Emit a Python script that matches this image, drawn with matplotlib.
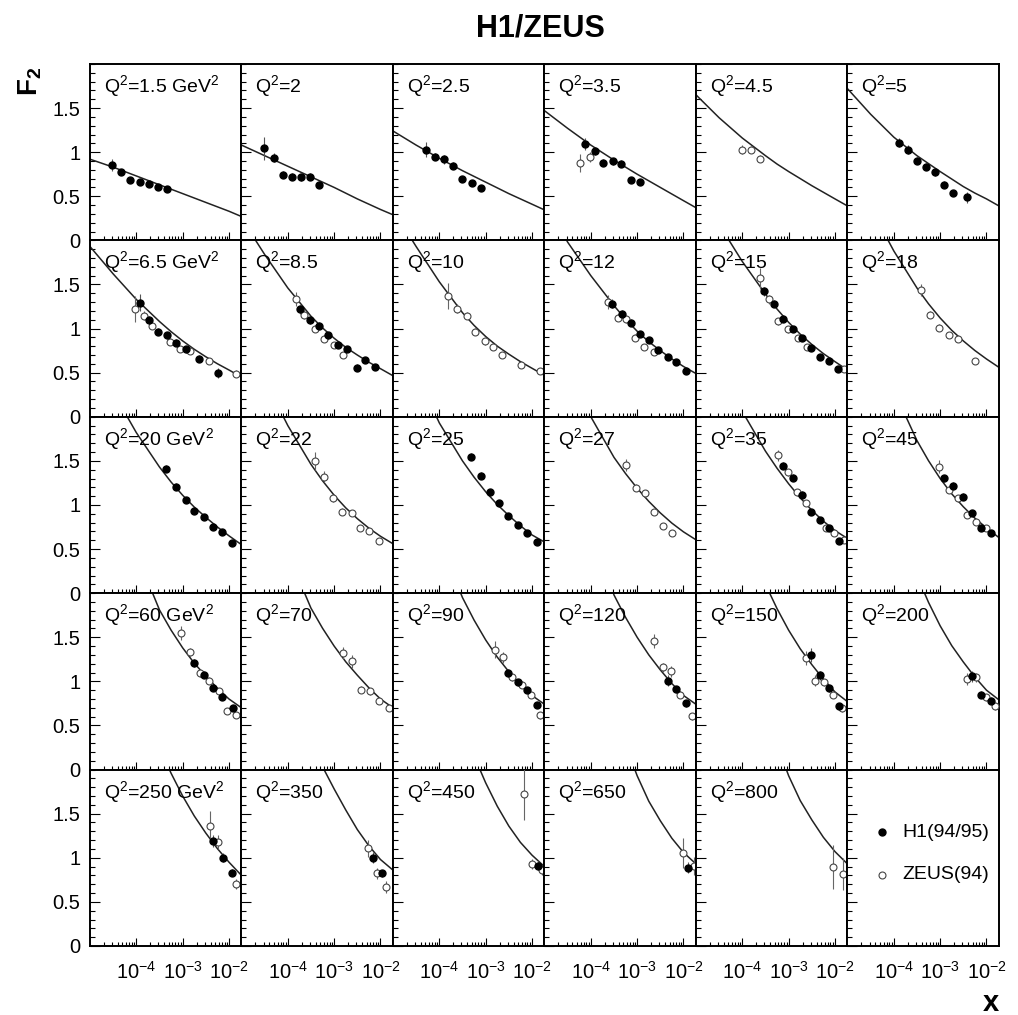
import matplotlib.pyplot as plt
import numpy as np
from matplotlib.ticker import LogLocator, MultipleLocator, FuncFormatter, NullFormatter

plt.rcParams['font.family'] = ['Liberation Sans', 'DejaVu Sans']
plt.rcParams['mathtext.fontset'] = 'custom'
plt.rcParams['mathtext.rm'] = 'Liberation Sans'
plt.rcParams['mathtext.it'] = 'Liberation Sans:italic'
plt.rcParams['mathtext.bf'] = 'Liberation Sans:bold'

# --- Q2 bins (GeV^2), one per panel ---
Q2 = ['1.5', '2', '2.5', '3.5', '4.5', '5',
      '6.5', '8.5', '10', '12', '15', '18',
      '20', '22', '25', '27', '35', '45',
      '60', '70', '90', '120', '150', '200',
      '250', '350', '450', '650', '800']

# --- H1 (94/95) points, per panel ---
H1_X = [
    [2.99e-5, 4.74e-5, 7.41e-5, 1.22e-4, 1.87e-4, 2.99e-4, 4.59e-4],
    [3.03e-5, 4.91e-5, 7.94e-5, 1.24e-4, 1.94e-4, 3.03e-4, 4.74e-4],
    [5.07e-5, 8.05e-5, 1.28e-4, 2.0e-4, 3.13e-4, 4.99e-4, 7.94e-4],
    [7.41e-5, 1.22e-4, 1.87e-4, 2.99e-4, 4.59e-4, 7.29e-4, 1.16e-3],
    [],
    [1.28e-4, 2.0e-4, 3.13e-4, 4.99e-4, 7.94e-4, 1.24e-3, 1.94e-3, 3.77e-3],
    [1.22e-4, 1.87e-4, 2.99e-4, 4.59e-4, 7.29e-4, 1.16e-3, 2.29e-3, 5.79e-3],
    [1.85e-4, 3.08e-4, 4.74e-4, 7.29e-4, 1.24e-3, 1.91e-3, 3.13e-3, 4.74e-3, 7.43e-3],
    [],
    [2.88e-4, 4.74e-4, 7.29e-4, 1.16e-3, 1.79e-3, 2.84e-3, 4.52e-3, 7.06e-3, 1.16e-2],
    [2.94e-4, 4.82e-4, 7.55e-4, 1.24e-3, 1.91e-3, 2.99e-3, 4.74e-3, 7.43e-3, 1.16e-2],
    [],
    [4.44e-4, 7.29e-4, 1.16e-3, 1.79e-3, 2.84e-3, 4.52e-3, 7.06e-3, 1.16e-2],
    [],
    [4.82e-4, 7.8e-4, 1.24e-3, 1.94e-3, 3.08e-3, 4.91e-3, 7.8e-3, 1.26e-2],
    [],
    [7.55e-4, 1.24e-3, 1.91e-3, 2.99e-3, 4.74e-3, 7.43e-3, 1.22e-2],
    [1.24e-3, 1.94e-3, 3.08e-3, 4.91e-3, 7.8e-3, 1.26e-2],
    [1.79e-3, 2.84e-3, 4.52e-3, 7.06e-3, 1.22e-2],
    [],
    [3.08e-3, 4.91e-3, 7.8e-3, 1.26e-2],
    [4.52e-3, 7.06e-3, 1.16e-2],
    [2.99e-3, 4.74e-3, 7.43e-3, 1.22e-2],
    [4.91e-3, 7.8e-3, 1.26e-2],
    [4.54e-3, 7.43e-3, 1.18e-2],
    [6.85e-3, 1.09e-2],
    [1.35e-2],
    [1.28e-2],
    [],
]
H1_Y = [
    [0.856, 0.78, 0.689, 0.667, 0.64, 0.606, 0.58],
    [1.045, 0.936, 0.746, 0.723, 0.716, 0.723, 0.629],
    [1.03, 0.947, 0.92, 0.845, 0.697, 0.652, 0.591],
    [1.095, 1.008, 0.879, 0.898, 0.867, 0.689, 0.659],
    [],
    [1.106, 1.03, 0.902, 0.837, 0.773, 0.629, 0.534, 0.489],
    [1.295, 1.102, 0.962, 0.924, 0.841, 0.765, 0.659, 0.496],
    [1.22, 1.095, 1.03, 0.924, 0.818, 0.765, 0.557, 0.64, 0.564],
    [],
    [1.284, 1.17, 1.068, 0.943, 0.867, 0.754, 0.678, 0.621, 0.515],
    [1.424, 1.284, 1.114, 1.0, 0.894, 0.78, 0.678, 0.629, 0.538],
    [],
    [1.409, 1.208, 1.057, 0.936, 0.86, 0.754, 0.689, 0.564],
    [],
    [1.549, 1.333, 1.144, 1.019, 0.875, 0.773, 0.686, 0.583],
    [],
    [1.447, 1.311, 1.114, 0.924, 0.83, 0.735, 0.591],
    [1.303, 1.22, 1.095, 0.905, 0.735, 0.678],
    [1.208, 1.076, 0.924, 0.818, 0.697],
    [],
    [1.095, 0.992, 0.905, 0.735],
    [1.008, 0.913, 0.754],
    [1.295, 1.068, 0.924, 0.716],
    [1.057, 0.848, 0.78],
    [1.19, 1.002, 0.833],
    [1.002, 0.826],
    [0.91],
    [0.888],
    [],
]
H1_ERR = [
    [0.07, 0.03, 0.03, 0.03, 0.03, 0.03, 0.03],
    [0.13, 0.05, 0.04, 0.04, 0.04, 0.04, 0.04],
    [0.08, 0.04, 0.05, 0.04, 0.03, 0.03, 0.03],
    [0.07, 0.04, 0.04, 0.04, 0.04, 0.03, 0.03],
    [],
    [0.05, 0.05, 0.04, 0.04, 0.04, 0.04, 0.03, 0.06],
    [0.1, 0.04, 0.04, 0.04, 0.04, 0.04, 0.04, 0.06],
    [0.05, 0.04, 0.04, 0.04, 0.03, 0.03, 0.04, 0.03, 0.03],
    [],
    [0.05, 0.04, 0.04, 0.03, 0.03, 0.03, 0.03, 0.03, 0.03],
    [0.05, 0.04, 0.04, 0.03, 0.03, 0.03, 0.03, 0.03, 0.03],
    [],
    [0.04, 0.04, 0.03, 0.03, 0.03, 0.03, 0.03, 0.03],
    [],
    [0.04, 0.04, 0.03, 0.03, 0.03, 0.03, 0.03, 0.03],
    [],
    [0.04, 0.04, 0.04, 0.03, 0.03, 0.03, 0.03],
    [0.04, 0.04, 0.04, 0.03, 0.03, 0.03],
    [0.04, 0.04, 0.03, 0.03, 0.03],
    [],
    [0.04, 0.04, 0.03, 0.03],
    [0.06, 0.04, 0.04],
    [0.08, 0.05, 0.04, 0.04],
    [0.06, 0.04, 0.04],
    [0.07, 0.05, 0.04],
    [0.06, 0.04],
    [0.05],
    [0.06],
    [],
]

# --- ZEUS (94) points, per panel ---
ZEUS_X = [
    [], [], [],
    [5.79e-5, 9.55e-5],
    [9.68e-5, 1.51e-4, 2.37e-4],
    [],
    [9.5e-5, 1.44e-4, 2.18e-4, 5.42e-4, 8.91e-4, 1.46e-3, 3.63e-3, 1.44e-2],
    [1.51e-4, 2.29e-4, 3.77e-4, 6.18e-4, 9.84e-4, 1.54e-3],
    [1.51e-4, 2.44e-4, 3.89e-4, 5.89e-4, 9.68e-4, 1.46e-3, 2.29e-3, 5.79e-3, 1.49e-2],
    [2.37e-4, 3.77e-4, 5.89e-4, 8.91e-4, 1.42e-3, 2.33e-3],
    [2.37e-4, 3.77e-4, 5.98e-4, 9.84e-4, 1.62e-3, 2.53e-3, 1.56e-2],
    [3.89e-4, 6.08e-4, 9.68e-4, 1.54e-3, 2.4e-3, 5.79e-3],
    [],
    [3.95e-4, 6.18e-4, 9.35e-4, 1.46e-3, 2.4e-3, 3.7e-3, 5.79e-3, 9.2e-3],
    [],
    [5.89e-4, 9.35e-4, 1.51e-3, 2.33e-3, 3.64e-3, 5.69e-3],
    [5.98e-4, 9.84e-4, 1.54e-3, 2.4e-3, 6.3e-3, 9.5e-3, 1.56e-2],
    [9.68e-4, 1.54e-3, 2.44e-3, 3.77e-3, 5.98e-3, 9.84e-3],
    [9.35e-4, 1.46e-3, 2.33e-3, 3.64e-3, 5.98e-3, 9.06e-3, 1.44e-2],
    [1.54e-3, 2.44e-3, 3.83e-3, 6.08e-3, 9.5e-3, 1.51e-2],
    [1.59e-3, 2.4e-3, 3.77e-3, 5.98e-3, 9.5e-3, 1.49e-2],
    [2.33e-3, 3.64e-3, 5.51e-3, 8.34e-3, 1.49e-2],
    [2.33e-3, 3.7e-3, 5.79e-3, 9.2e-3, 1.44e-2],
    [3.77e-3, 5.98e-3, 9.84e-3, 1.49e-2],
    [3.85e-3, 5.81e-3, 1.44e-2],
    [5.36e-3, 8.34e-3, 1.32e-2],
    [6.58e-3, 1.0e-2, 1.65e-2],
    [9.68e-3, 1.67e-2],
    [9.2e-3, 1.49e-2],
]
ZEUS_Y = [
    [], [], [],
    [0.879, 0.943],
    [1.03, 1.03, 0.924],
    [],
    [1.22, 1.144, 1.03, 0.848, 0.773, 0.742, 0.629, 0.489],
    [1.333, 1.159, 1.0, 0.886, 0.818, 0.705],
    [1.371, 1.227, 1.144, 0.962, 0.856, 0.792, 0.705, 0.591, 0.515],
    [1.303, 1.121, 1.106, 0.894, 0.792, 0.735],
    [1.568, 1.333, 1.083, 0.992, 0.894, 0.792, 0.545],
    [1.436, 1.159, 1.008, 0.924, 0.886, 0.629],
    [],
    [1.5, 1.322, 1.076, 0.924, 0.905, 0.742, 0.705, 0.591],
    [],
    [1.455, 1.197, 1.133, 0.924, 0.761, 0.678],
    [1.561, 1.371, 1.144, 1.019, 0.742, 0.678, 0.602],
    [1.436, 1.17, 1.076, 0.886, 0.803, 0.742],
    [1.549, 1.333, 1.095, 1.008, 0.894, 0.667, 0.614],
    [1.322, 1.227, 0.905, 0.886, 0.773, 0.697],
    [1.36, 1.273, 1.045, 0.962, 0.841, 0.614],
    [1.462, 1.159, 1.114, 0.848, 0.602],
    [1.265, 1.008, 0.992, 0.848, 0.697],
    [1.03, 1.045, 0.818, 0.716],
    [1.358, 1.182, 0.702],
    [1.107, 0.822, 0.672],
    [1.723, 0.929, 0.861],
    [1.056, 0.91],
    [0.899, 0.816],
]
ZEUS_ERR = [
    [], [], [],
    [0.1, 0.06],
    [0.05, 0.04, 0.04],
    [],
    [0.15, 0.05, 0.04, 0.04, 0.03, 0.03, 0.03, 0.04],
    [0.08, 0.05, 0.04, 0.04, 0.03, 0.03],
    [0.15, 0.05, 0.04, 0.04, 0.04, 0.03, 0.03, 0.03, 0.03],
    [0.08, 0.04, 0.04, 0.04, 0.03, 0.03],
    [0.12, 0.05, 0.04, 0.04, 0.03, 0.03, 0.03],
    [0.07, 0.04, 0.04, 0.03, 0.03, 0.03],
    [],
    [0.1, 0.06, 0.04, 0.04, 0.03, 0.03, 0.03, 0.03],
    [],
    [0.07, 0.04, 0.04, 0.03, 0.03, 0.03],
    [0.06, 0.04, 0.04, 0.03, 0.03, 0.03, 0.03],
    [0.07, 0.04, 0.04, 0.03, 0.03, 0.03],
    [0.08, 0.05, 0.04, 0.04, 0.03, 0.03, 0.03],
    [0.07, 0.07, 0.04, 0.04, 0.03, 0.03],
    [0.1, 0.06, 0.04, 0.04, 0.03, 0.04],
    [0.08, 0.05, 0.06, 0.04, 0.04],
    [0.08, 0.06, 0.04, 0.04, 0.04],
    [0.07, 0.05, 0.04, 0.04],
    [0.17, 0.08, 0.06],
    [0.1, 0.06, 0.07],
    [0.29, 0.06, 0.06],
    [0.17, 0.1],
    [0.25, 0.18],
]

# --- fit curve at these x ---
FIT_X = [1e-5, 3.16e-5, 1e-4, 3.16e-4, 5.62e-4, 1e-3, 1.78e-3, 3.16e-3, 5.62e-3, 1e-2, 1.86e-2]
FIT_Y = [
    [0.92, 0.83, 0.73, 0.63, 0.58, 0.53, 0.48, 0.43, 0.38, 0.33, 0.27],
    [1.08, 0.96, 0.84, 0.72, 0.66, 0.60, 0.535, 0.47, 0.41, 0.35, 0.29],
    [1.24, 1.08, 0.93, 0.79, 0.725, 0.66, 0.595, 0.53, 0.47, 0.41, 0.345],
    [1.47, 1.27, 1.08, 0.91, 0.83, 0.75, 0.675, 0.60, 0.525, 0.45, 0.37],
    [1.65, 1.39, 1.16, 0.96, 0.865, 0.78, 0.70, 0.62, 0.545, 0.47, 0.39],
    [1.72, 1.43, 1.17, 0.96, 0.87, 0.78, 0.695, 0.61, 0.536, 0.47, 0.39],
    [1.93, 1.62, 1.33, 1.08, 0.965, 0.86, 0.765, 0.68, 0.601, 0.53, 0.45],
    [2.25, 1.84, 1.46, 1.14, 1.007, 0.89, 0.787, 0.70, 0.618, 0.545, 0.465],
    [2.35, 1.93, 1.53, 1.18, 1.036, 0.91, 0.801, 0.71, 0.625, 0.55, 0.47],
    [2.45, 1.98, 1.6, 1.26, 1.106, 0.97, 0.851, 0.75, 0.655, 0.57, 0.49],
    [2.7, 2.18, 1.76, 1.39, 1.221, 1.07, 0.936, 0.82, 0.716, 0.625, 0.53],
    [2.95, 2.37, 1.88, 1.46, 1.28, 1.12, 0.98, 0.86, 0.751, 0.655, 0.56],
    [2.9, 2.28, 1.82, 1.43, 1.26, 1.11, 0.976, 0.86, 0.75, 0.65, 0.55],
    [3.05, 2.42, 1.9, 1.46, 1.274, 1.11, 0.967, 0.845, 0.737, 0.645, 0.56],
    [3.1, 2.5, 1.93, 1.5, 1.315, 1.15, 1.005, 0.88, 0.764, 0.66, 0.58],
    [3.35, 2.6, 2.0, 1.54, 1.356, 1.19, 1.041, 0.91, 0.794, 0.695, 0.605],
    [3.5, 2.7, 2.06, 1.61, 1.416, 1.24, 1.081, 0.94, 0.816, 0.71, 0.62],
    [3.9, 3.0, 2.3, 1.73, 1.501, 1.3, 1.126, 0.98, 0.85, 0.74, 0.63],
    [4.6, 3.4, 2.45, 1.81, 1.581, 1.38, 1.206, 1.06, 0.922, 0.8, 0.7],
    [5.0, 3.7, 2.45, 1.83, 1.602, 1.4, 1.222, 1.07, 0.927, 0.8, 0.7],
    [5.2, 3.9, 2.6, 1.95, 1.695, 1.47, 1.275, 1.11, 0.964, 0.84, 0.74],
    [5.5, 4.1, 2.8, 1.98, 1.726, 1.5, 1.301, 1.13, 0.975, 0.84, 0.74],
    [6.0, 4.4, 3.0, 2.1, 1.824, 1.58, 1.369, 1.19, 1.025, 0.88, 0.77],
    [6.4, 4.7, 3.2, 2.2, 1.895, 1.63, 1.405, 1.22, 1.049, 0.9, 0.79],
    [7.0, 5.0, 3.5, 2.25, 1.959, 1.7, 1.474, 1.28, 1.104, 0.95, 0.8],
    [7.5, 5.3, 3.7, 2.3, 2.032, 1.78, 1.542, 1.32, 1.135, 0.98, 0.86],
    [8.0, 5.6, 3.9, 2.5, 2.155, 1.85, 1.585, 1.36, 1.175, 1.03, 0.9],
    [8.5, 6.0, 4.1, 2.7, 2.282, 1.93, 1.642, 1.42, 1.221, 1.06, 0.93],
    [8.5, 6.0, 4.1, 2.7, 2.282, 1.93, 1.648, 1.43, 1.232, 1.07, 0.93],
]

fig, axes = plt.subplots(5, 6, figsize=(10.18, 10.15), dpi=100, sharex=True, sharey=True)
plt.subplots_adjust(left=0.0884, right=0.9813, top=0.937, bottom=0.068, wspace=0, hspace=0)

for i, ax in enumerate(axes.flat):
    ax.set_xscale('log')
    ax.set_xlim(1e-5, 1.86e-2)
    ax.set_ylim(0, 2)
    for sp in ax.spines.values():
        sp.set_linewidth(1.4)
    ax.tick_params(which='both', direction='in', top=False, right=False)
    ax.tick_params(axis='y', which='major', length=7, width=0.8, pad=7, labelsize=14.5)
    ax.tick_params(axis='y', which='minor', length=3.5, width=0.8)
    ax.tick_params(axis='x', which='major', length=6, width=0.8, pad=11, labelsize=14.5)
    ax.tick_params(axis='x', which='minor', length=3, width=0.8)

    if i >= len(Q2):
        continue
    ax.plot(FIT_X, FIT_Y[i], color='#222222', lw=1.1, zorder=2)
    if H1_X[i]:
        ax.errorbar(H1_X[i], H1_Y[i], yerr=H1_ERR[i], fmt='o', ms=5, color='black',
                    ecolor='#555555', elinewidth=0.8, capsize=0, zorder=4)
    if ZEUS_X[i]:
        ax.errorbar(ZEUS_X[i], ZEUS_Y[i], yerr=ZEUS_ERR[i], fmt='o', ms=5, mfc='white',
                    mec='#444444', mew=0.8, ecolor='#666666', elinewidth=0.8, capsize=0, zorder=3)
    label = 'Q$^2$=' + Q2[i]
    if i % 6 == 0:
        label += ' GeV$^2$'
    ax.text(0.09, 0.875, label, transform=ax.transAxes, fontsize=14, va='center', ha='left')

# shared axis settings
ax0 = axes[0, 0]
ax0.set_xticks([1e-4, 1e-3, 1e-2])
ax0.xaxis.set_minor_locator(LogLocator(base=10, subs=np.arange(2, 10), numticks=20))
ax0.xaxis.set_minor_formatter(NullFormatter())
ax0.set_yticks([0, 0.5, 1, 1.5])
ax0.yaxis.set_minor_locator(MultipleLocator(0.1))
ax0.yaxis.set_major_formatter(FuncFormatter(lambda v, p: '%g' % v))

# legend panel
leg = axes[4, 5]
leg.plot([0.225], [0.646], 'o', ms=5, color='black', transform=leg.transAxes)
leg.plot([0.225], [0.404], 'o', ms=5, mfc='white', mec='#444444', mew=0.8, transform=leg.transAxes)
leg.text(0.36, 0.646, 'H1(94/95)', transform=leg.transAxes, fontsize=14, va='center')
leg.text(0.36, 0.404, 'ZEUS(94)', transform=leg.transAxes, fontsize=14, va='center')

fig.text(0.531, 0.972, 'H1/ZEUS', ha='center', va='center', fontsize=22, fontweight='bold')
fig.text(0.03, 0.92, r'$\mathbf{F_2}$', ha='center', va='center', fontsize=20, rotation=90)
fig.text(0.973, 0.012, 'x', ha='center', va='center', fontsize=21, fontweight='bold')

fig.savefig('out.png', dpi=100)
